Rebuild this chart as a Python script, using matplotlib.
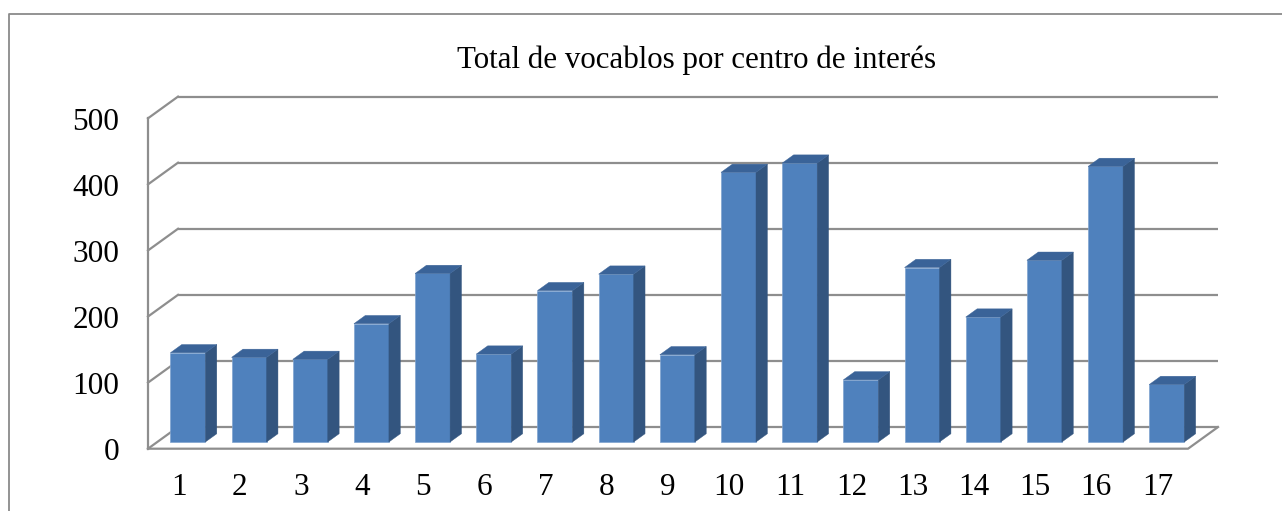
import matplotlib
matplotlib.use("Agg")
import matplotlib.pyplot as plt
from matplotlib.patches import Polygon
from matplotlib.lines import Line2D

# ---- data ----
title = "Total de vocablos por centro de interés"
categories = [str(i) for i in range(1, 18)]
values = [135, 128, 125, 179, 255, 133, 229, 254, 132, 408, 422, 94, 264, 189, 275, 417, 87]
yticks = [0, 100, 200, 300, 400, 500]

# ---- style / geometry ----
W, H = 1282, 511
PX_PER_X = 61.18        # pixels per category unit
PX_PER_Y = 0.6608       # pixels per value unit
X0_PX, Y0_PX = 148.0, 448.7  # pixel position of front-left floor corner
DX, DY = 0.49, 32.8     # oblique depth offset (data units)
F0, F1 = 0.31, 0.69     # bar front/back depth fractions
BAR_W = 0.572
GRID = "#8E8E8E"
FRONT = "#4F81BD"
SIDE = "#33557F"
TOP = "#3A6398"
FONT = "Liberation Serif"

fig = plt.figure(figsize=(W / 100, H / 100), dpi=100)
ax = fig.add_axes([0, 0, 1, 1])
ax.set_xlim((0 - X0_PX) / PX_PER_X, (W - X0_PX) / PX_PER_X)
ax.set_ylim((Y0_PX - H) / PX_PER_Y, Y0_PX / PX_PER_Y)
ax.axis("off")

n = len(categories)
ymax = yticks[-1]
glw = 1.6

# outer chart border (left and top)
fig.add_artist(Line2D([9 / W, 9 / W, 1.01], [-0.01, 1 - 14 / H, 1 - 14 / H],
                      transform=fig.transFigure, color="#8A8A8A", lw=1.3))

# back wall gridlines + left wall diagonals
for t in yticks:
    ax.plot([DX, n + DX], [t + DY, t + DY], color=GRID, lw=glw, zorder=1,
            solid_capstyle="butt")
    ax.plot([0, DX], [t, t + DY], color=GRID, lw=glw, zorder=1)
# front-left vertical edge
ax.plot([0, 0], [0, ymax], color=GRID, lw=glw, zorder=1)
# floor front and right edges
ax.plot([0, n, n + DX], [0, 0, DY], color=GRID, lw=glw, zorder=1)

# bars (oblique 3D look)
for i, v in enumerate(values):
    cx = i + 0.5
    xl = cx + F0 * DX - BAR_W / 2
    xr = xl + BAR_W
    yb = F0 * DY
    yt = yb + v
    ddx = (F1 - F0) * DX
    ddy = (F1 - F0) * DY
    ax.bar(xl, v, width=BAR_W, bottom=yb, align="edge", color=FRONT,
           edgecolor="#7FA3D0", linewidth=0.5, zorder=3)
    ax.add_patch(Polygon([(xr, yb), (xr + ddx, yb + ddy), (xr + ddx, yt + ddy), (xr, yt)],
                         closed=True, facecolor=SIDE, edgecolor=SIDE, lw=0.3, zorder=3))
    ax.add_patch(Polygon([(xl, yt), (xr, yt), (xr + ddx, yt + ddy), (xl + ddx, yt + ddy)],
                         closed=True, facecolor=TOP, edgecolor=TOP, lw=0.3, zorder=3))

# y tick labels
for t in yticks:
    ax.text(-0.47, t - 17.7, str(t), ha="right", va="baseline",
            fontsize=22.5, family=FONT, color="black")

# x tick labels
for i, c in enumerate(categories):
    ax.text(i + 0.5, -70, c, ha="center", va="baseline",
            fontsize=22.5, family=FONT, color="black")

# title
ax.text((697 - X0_PX) / PX_PER_X, (Y0_PX - 68) / PX_PER_Y, title,
        ha="center", va="baseline", fontsize=22.3, family=FONT, color="black")

fig.savefig("out.png", dpi=100)
